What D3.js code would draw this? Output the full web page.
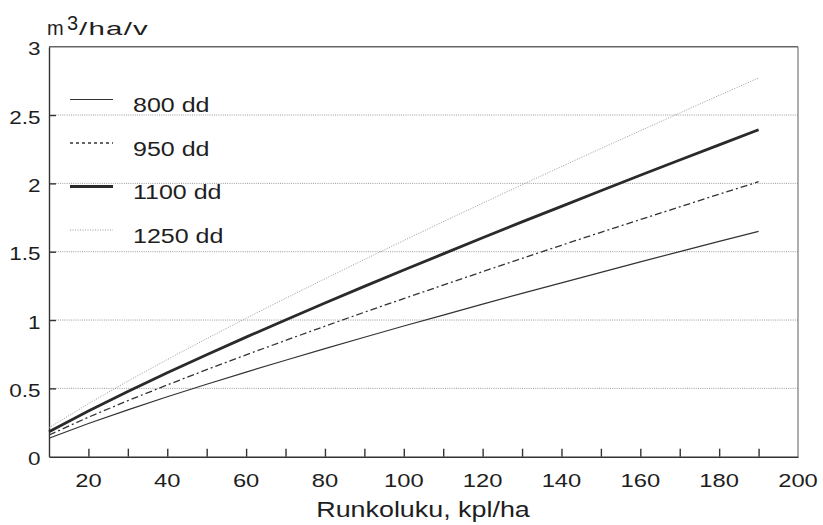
<!DOCTYPE html>
<html><head><meta charset="utf-8">
<script src="https://cdn.jsdelivr.net/npm/d3@7"></script>
<style>
body{margin:0;background:#fff;}
text{font-family:"Liberation Sans",Arial,sans-serif;fill:#1e1e1e;}
</style></head>
<body><svg id="c" width="823" height="525"></svg>
<script>
// ---- data ----
const stemCounts = [10,20,30,40,50,60,70,80,90,100,110,120,130,140,150,160,170,180,190];
const s800  = [0.135,0.243,0.343,0.439,0.530,0.619,0.706,0.791,0.874,0.956,1.036,1.116,1.195,1.272,1.349,1.425,1.501,1.575,1.649];
const s950  = [0.159,0.289,0.410,0.525,0.637,0.745,0.851,0.955,1.057,1.157,1.256,1.354,1.451,1.547,1.642,1.735,1.828,1.921,2.012];
const s1100 = [0.183,0.335,0.477,0.614,0.746,0.875,1.000,1.124,1.246,1.366,1.484,1.602,1.718,1.832,1.946,2.059,2.171,2.282,2.392];
const s1250 = [0.212,0.388,0.553,0.711,0.864,1.013,1.159,1.302,1.443,1.582,1.720,1.855,1.990,2.123,2.255,2.385,2.515,2.644,2.771];
const seriesNames = ["800 dd","950 dd","1100 dd","1250 dd"];
const xTickValues = [20,40,60,80,100,120,140,160,180,200];
const xMinorTicks = [20,30,40,50,60,70,80,90,100,110,120,130,140,150,160,170,180,190];
const yTickValues = [0,0.5,1,1.5,2,2.5,3];
const yTickLabels = ["0","0.5","1","1.5","2","2.5","3"];
const xTitle = "Runkoluku, kpl/ha";

// ---- layout ----
const L=49, R=798, T=46.7, B=456.7, SX=1.25;
const svg = d3.select("#c");
const x = d3.scaleLinear().domain([10,200]).range([L,R]);
const y = d3.scaleLinear().domain([0,3]).range([B,T]);

// gridlines
svg.append("g").selectAll("line").data(yTickValues.filter(v=>v>0&&v<3)).join("line")
  .attr("x1",L).attr("x2",R).attr("y1",d=>y(d)).attr("y2",d=>y(d))
  .attr("stroke","#9a9a9a").attr("stroke-width",1).attr("stroke-dasharray","1,1.2");

// frame top/right
svg.append("line").attr("x1",L).attr("x2",R).attr("y1",T).attr("y2",T).attr("stroke","#666").attr("stroke-width",1.4);
svg.append("line").attr("x1",R).attr("x2",R).attr("y1",T).attr("y2",B).attr("stroke","#777").attr("stroke-width",1.2);

// axes (ticks inward)
const xa = svg.append("g").attr("transform",`translate(0,${B})`)
  .call(d3.axisBottom(x).tickValues(xMinorTicks).tickSize(-8).tickSizeOuter(0).tickFormat(""));
const ya = svg.append("g").attr("transform",`translate(${L},0)`)
  .call(d3.axisLeft(y).tickValues(yTickValues.filter(v=>v>0&&v<3)).tickSize(-7).tickSizeOuter(0).tickFormat(""));
[xa,ya].forEach(a=>{a.selectAll("path,line").attr("stroke","#333").attr("stroke-width",1.4);});

function stext(px,py,str,anchor,size,sx,extra){
  const g = svg.append("g").attr("transform",`translate(${px},${py}) scale(${sx||SX},1)`);
  const t = g.append("text").attr("text-anchor",anchor).style("font-size",size+"px").text(str);
  if(extra) extra(t);
  return t;
}
// tick labels
yTickValues.forEach((v,i)=>stext(40.5,y(v)+8.5,yTickLabels[i],"end",18));
xTickValues.forEach(v=>stext(x(v),487,String(v),"middle",19));
// axis title
stext(423,517,xTitle,"middle",21.5);
// unit label
stext(47,35,"m","start",20,1.0);
stext(67,30,"3","start",20,1.0);
stext(79,35,"/ha/v","start",19,1.55,t=>t.style("letter-spacing","0.8px"));

// lines
const styles = [
  {data:s800,  stroke:"#333", w:1.2, dash:null, legDash:null},
  {data:s950,  stroke:"#333", w:1.3, dash:"7,3,2,3", legDash:"3,3"},
  {data:s1100, stroke:"#2a2a2a", w:2.8, dash:null, legDash:null},
  {data:s1250, stroke:"#999", w:1, dash:"1,1.5", legDash:"1,1.5"}
];
const line = d3.line().x((d,i)=>x(stemCounts[i])).y(d=>y(d));
styles.forEach(s=>{
  svg.append("path").attr("d",line(s.data)).attr("fill","none")
    .attr("stroke",s.stroke).attr("stroke-width",s.w)
    .attr("stroke-dasharray",s.dash);
});

// legend
const legY0=99.5, legStep=43.5;
styles.forEach((s,i)=>{
  const ly = legY0+i*legStep;
  svg.append("line").attr("x1",70).attr("x2",113).attr("y1",ly).attr("y2",ly)
    .attr("stroke",s.stroke).attr("stroke-width",s.w).attr("stroke-dasharray",s.legDash);
  stext(133,ly+12.5,seriesNames[i],"start",20);
});
</script></body></html>
